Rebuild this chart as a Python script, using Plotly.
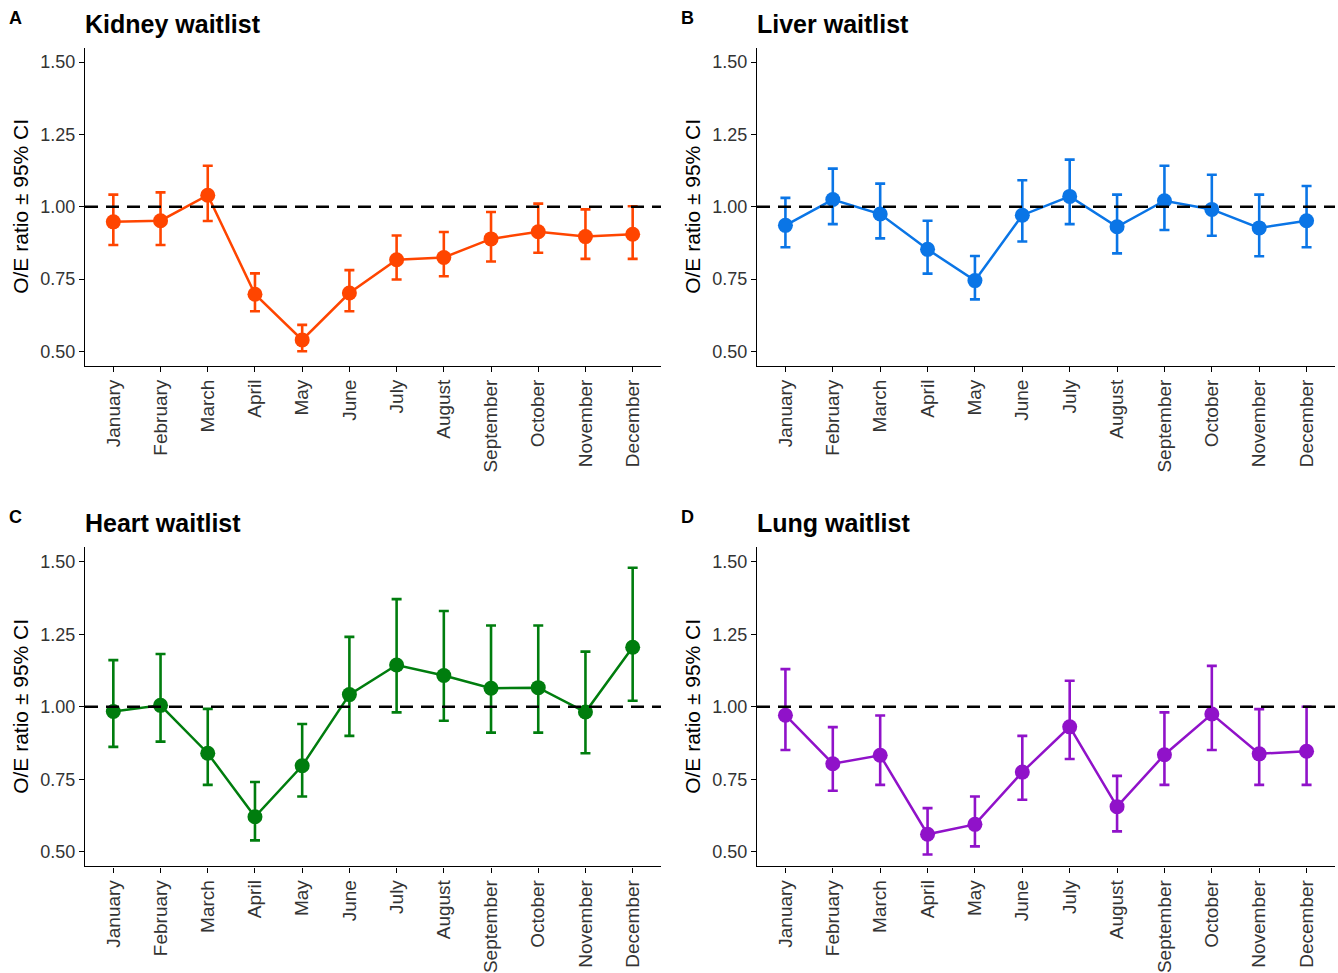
import plotly.graph_objects as go

months = ["January", "February", "March", "April", "May", "June", "July",
          "August", "September", "October", "November", "December"]

kidney_est = [0.948, 0.952, 1.040, 0.698, 0.540, 0.702, 0.817, 0.825, 0.889, 0.914, 0.897, 0.905]
kidney_hi = [1.042, 1.050, 1.142, 0.770, 0.592, 0.781, 0.901, 0.913, 0.982, 1.011, 0.991, 1.002]
kidney_lo = [0.868, 0.868, 0.951, 0.639, 0.501, 0.639, 0.749, 0.760, 0.811, 0.841, 0.820, 0.820]

liver_est = [0.936, 1.025, 0.975, 0.853, 0.745, 0.971, 1.036, 0.931, 1.021, 0.991, 0.927, 0.952]
liver_hi = [1.031, 1.132, 1.080, 0.952, 0.830, 1.092, 1.163, 1.042, 1.142, 1.111, 1.042, 1.072]
liver_lo = [0.860, 0.940, 0.891, 0.769, 0.680, 0.880, 0.940, 0.839, 0.920, 0.900, 0.829, 0.860]

heart_est = [0.984, 1.005, 0.840, 0.621, 0.797, 1.042, 1.144, 1.108, 1.064, 1.066, 0.982, 1.205]
heart_hi = [1.161, 1.182, 0.993, 0.741, 0.941, 1.241, 1.371, 1.330, 1.280, 1.280, 1.190, 1.479]
heart_lo = [0.862, 0.880, 0.731, 0.540, 0.691, 0.900, 0.981, 0.952, 0.911, 0.911, 0.840, 1.021]

lung_est = [0.971, 0.804, 0.833, 0.561, 0.595, 0.775, 0.931, 0.656, 0.835, 0.975, 0.838, 0.847]
lung_hi = [1.130, 0.930, 0.970, 0.651, 0.691, 0.900, 1.090, 0.762, 0.981, 1.141, 0.992, 1.000]
lung_lo = [0.851, 0.711, 0.731, 0.491, 0.519, 0.680, 0.820, 0.571, 0.731, 0.851, 0.731, 0.731]

panels = [
    ("A", "Kidney waitlist", kidney_est, kidney_lo, kidney_hi, "#FF4500"),
    ("B", "Liver waitlist", liver_est, liver_lo, liver_hi, "#0A75E6"),
    ("C", "Heart waitlist", heart_est, heart_lo, heart_hi, "#007D0E"),
    ("D", "Lung waitlist", lung_est, lung_lo, lung_hi, "#9012C9"),
]
y_ticks = [0.50, 0.75, 1.00, 1.25, 1.50]

W, H = 1338, 973
VS = 1 / 0.9925  # vertical correction
# pixel boxes (left, right, top, bottom)
boxes = [(85, 661, 48, 368.5), (757, 1335, 48, 368.5),
         (85, 661, 551, 872.5), (757, 1335, 551, 872.5)]

fig = go.Figure()
font_fam = "Liberation Sans, Arial, sans-serif"


def py(pix):
    return (H - pix * VS) / H


for i, (letter, title, est, lo, hi, col) in enumerate(panels):
    n = i + 1
    xa = "x" if n == 1 else f"x{n}"
    ya = "y" if n == 1 else f"y{n}"
    fig.add_trace(go.Scatter(
        x=months, y=est, xaxis=xa, yaxis=ya, mode="lines+markers",
        line=dict(color=col, width=2.5),
        marker=dict(color=col, size=15),
        error_y=dict(type="data", symmetric=False,
                     array=[h - e for h, e in zip(hi, est)],
                     arrayminus=[e - l for e, l in zip(est, lo)],
                     color=col, thickness=2.6, width=5),
        showlegend=False, hoverinfo="skip"))
    l, r, t, b = boxes[i]
    xd = [l / W, r / W]
    yd = [py(b), py(t)]
    axis_common = dict(showline=True, linecolor="black", linewidth=1.2,
                       ticks="outside", ticklen=5, tickcolor="black", tickwidth=1.2,
                       showgrid=False, zeroline=False)
    fig.layout[("xaxis" if n == 1 else f"xaxis{n}")] = dict(
        domain=xd, anchor=ya, type="category", categoryorder="array",
        categoryarray=months, range=[-0.6, 11.6], tickangle=-90,
        tickfont=dict(family=font_fam, size=19, color="#333333"), **axis_common)
    fig.layout[("yaxis" if n == 1 else f"yaxis{n}")] = dict(
        domain=yd, anchor=xa, range=[0.45, 1.55], tickvals=y_ticks,
        tickformat=".2f",
        tickfont=dict(family=font_fam, size=18, color="#333333"), **axis_common)
    fig.add_shape(type="line", xref=f"{xa} domain", yref=ya, x0=0, x1=1, y0=1, y1=1,
                  line=dict(color="black", width=2.6, dash="13px,8px"), layer="above")
    # panel letter
    fig.add_annotation(text=f"<b>{letter}</b>", xref="paper", yref="paper",
                       x=(l - 78) / W, y=py(t - 30), xanchor="left", yanchor="middle",
                       showarrow=False, font=dict(family=font_fam, size=18, color="black"))
    # title
    fig.add_annotation(text=f"<b>{title}</b>", xref="paper", yref="paper",
                       x=(l - 2) / W, y=py(t - 24), xanchor="left", yanchor="middle",
                       showarrow=False, font=dict(family=font_fam, size=25, color="black"))
    # y title
    fig.add_annotation(text="O/E ratio ± 95% CI", xref="paper", yref="paper",
                       x=(l - 64) / W, y=py((t + b) / 2), xanchor="center", yanchor="middle",
                       textangle=-90, showarrow=False,
                       font=dict(family=font_fam, size=21, color="black"))

fig.update_layout(width=W, height=H, margin=dict(l=0, r=0, t=0, b=0),
                  plot_bgcolor="white", paper_bgcolor="white")
fig.write_html("out.html", config={"displayModeBar": False},
               post_script="document.body.style.margin='0';document.body.style.overflow='hidden';")
